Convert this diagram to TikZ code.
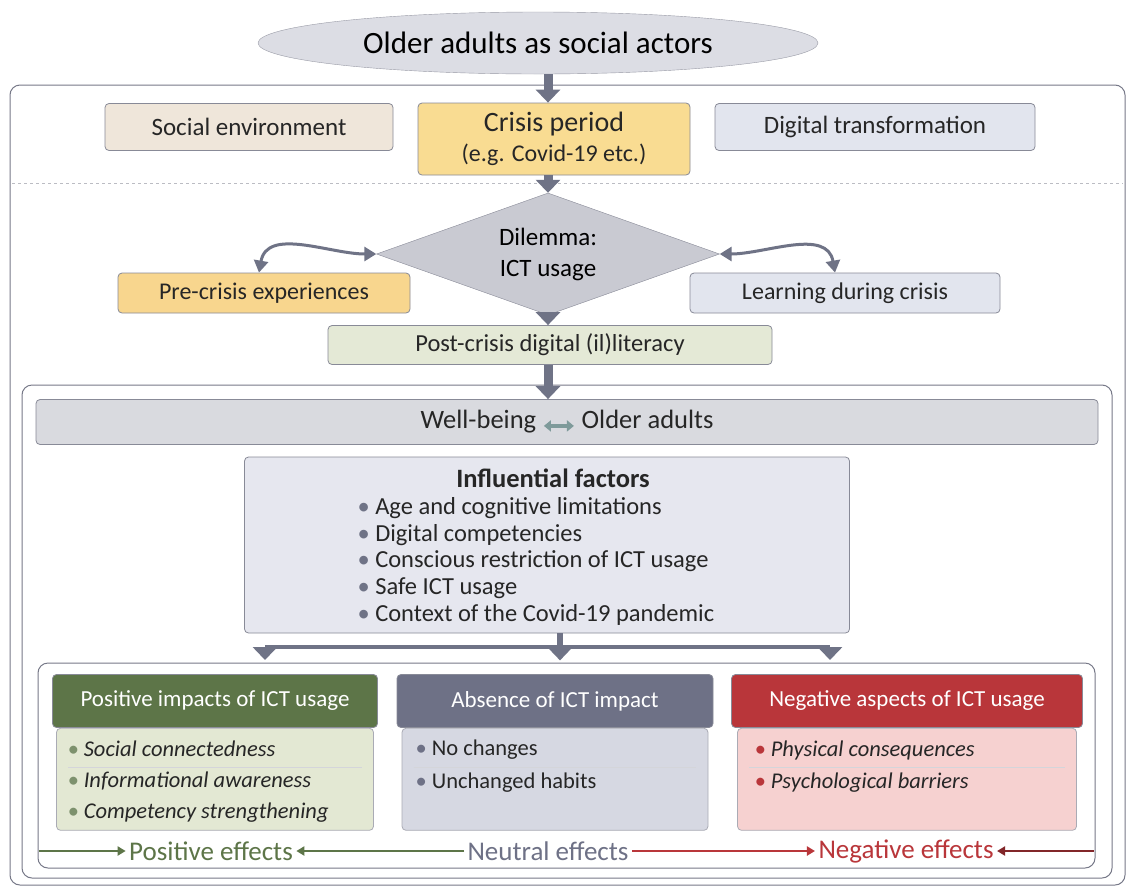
\documentclass[tikz,border=0pt]{standalone}
\usepackage{fontspec}
\setmainfont{Carlito}
\usetikzlibrary{positioning,shapes.geometric,arrows.meta,calc}
\definecolor{ellfill}{HTML}{DCDDE4}
\definecolor{flowgray}{HTML}{6F7386}
\definecolor{envfill}{HTML}{EFE6DA}
\definecolor{crisisfill}{HTML}{F9DC92}
\definecolor{digfill}{HTML}{E2E5EE}
\definecolor{dilfill}{HTML}{C9CAD2}
\definecolor{prefill}{HTML}{F8D68E}
\definecolor{postfill}{HTML}{E4E9D6}
\definecolor{wellfill}{HTML}{D9DADF}
\definecolor{inffill}{HTML}{E6E7EF}
\definecolor{posdark}{HTML}{5D7548}
\definecolor{poslight}{HTML}{E3E8D3}
\definecolor{neudark}{HTML}{6E7186}
\definecolor{neulight}{HTML}{D6D8E2}
\definecolor{negdark}{HTML}{B9363A}
\definecolor{neglight}{HTML}{F6D1D0}
\definecolor{wellarrow}{HTML}{7E9A9A}
\definecolor{frame}{HTML}{55586A}
\tikzset{
  box/.style={draw=frame!70, rounded corners=4pt, line width=0.8pt, text=black!85},
  flow/.style={draw=flowgray, line width=9pt, -{Triangle[width=24pt,length=13pt]}},
  sidearrow/.style={draw=flowgray, line width=3pt, {Triangle[width=14pt,length=12pt]}-{Triangle[width=14pt,length=12pt]}},
  head/.style={box, text=white, font=\fontsize{23}{26}\selectfont},
  body/.style={box, draw=frame!50},
  item/.style={anchor=west, font=\fontsize{22.5}{26}\selectfont\itshape, text=black!85},
  effect/.style={line width=2pt, -{Triangle[width=9pt,length=8pt]}},
}
\begin{document}
\begin{tikzpicture}[x=1pt,y=-1pt]
\useasboundingbox[fill=white] (0,0) rectangle (1135,892);
% frames
\draw[frame!80, line width=1pt, rounded corners=10pt] (10,85) rectangle (1125,885);
\draw[frame!40, dashed, line width=0.8pt] (12,183) -- (1123,183);
\draw[frame!80, line width=1pt, rounded corners=10pt] (22,385) rectangle (1112,878);
\draw[frame!80, line width=1pt, rounded corners=10pt] (38,663) rectangle (1095,868);
% top
\node[ellipse, draw=frame!60, fill=ellfill, minimum width=560, minimum height=62, font=\fontsize{31}{34}\selectfont] (actors) at (538,43) {Older adults as social actors};
\node[box, fill=envfill, minimum width=288, minimum height=47, font=\fontsize{25}{28}\selectfont] (env) at (249,127) {Social environment};
\node[box, fill=crisisfill, minimum width=272, minimum height=72, align=center, font=\fontsize{24}{30}\selectfont] (crisis) at (554,139) {\fontsize{28}{30}\selectfont Crisis period\\(e.g. Covid-19 etc.)};
\node[box, fill=digfill, minimum width=320, minimum height=47, font=\fontsize{25}{28}\selectfont] (digital) at (875,127) {Digital transformation};
% dilemma
\node[diamond, draw=frame!70, fill=dilfill, aspect=2.8, minimum width=343, minimum height=122, inner sep=0pt, align=center, font=\fontsize{25}{31}\selectfont] (dilemma) at (548,254) {Dilemma:\\ICT usage};
\node[box, fill=prefill, minimum width=292, minimum height=40, font=\fontsize{24}{28}\selectfont] (pre) at (264,293) {Pre-crisis experiences};
\node[box, fill=digfill, minimum width=310, minimum height=40, font=\fontsize{24}{28}\selectfont] (learn) at (845,293) {Learning during crisis};
\node[box, fill=postfill, minimum width=444, minimum height=39, font=\fontsize{24.5}{28}\selectfont] (post) at (550,345) {Post-crisis digital (il)literacy};
% well-being
\node[box, fill=wellfill, minimum width=1062, minimum height=45, font=\fontsize{26.5}{30}\selectfont] (well) at (567,422) {Well-being \tikz[baseline=-3pt]\draw[wellarrow, line width=3.5pt, {Triangle[width=11pt,length=7pt]}-{Triangle[width=11pt,length=7pt]}] (0,0) -- (30pt,0); Older adults};
\node[box, fill=inffill, minimum width=605, minimum height=176] (infl) at (547,545) {};
\node[font=\fontsize{26.5}{30}\selectfont\bfseries, text=black!85] (infltitle) at (553,478) {Influential factors};
\foreach \t [count=\i] in {Age and cognitive limitations, Digital competencies, Conscious restriction of ICT usage, Safe ICT usage, Context of the Covid-19 pandemic}
  \node[item, font=\fontsize{24.5}{28}\selectfont] (fac\i) at (354,482+26.5*\i) {\textcolor{flowgray}{\textbullet}\ \t};
% impact columns
\node[head, fill=posdark, minimum width=325, minimum height=53] (poshead) at (215,701) {Positive impacts of ICT usage};
\node[body, fill=poslight, minimum width=317, minimum height=102, anchor=north] (posbody) at (poshead.south) {};
\node[head, fill=neudark, minimum width=316, minimum height=53] (neuhead) at (555,701) {Absence of ICT impact};
\node[body, fill=neulight, minimum width=306, minimum height=102, anchor=north] (neubody) at (neuhead.south) {};
\node[head, fill=negdark, minimum width=351, minimum height=53] (neghead) at (907,701) {Negative aspects of ICT usage};
\node[body, fill=neglight, minimum width=339, minimum height=102, anchor=north] (negbody) at (neghead.south) {};
\foreach \c in {pos, neu, neg} {
  \draw[frame!25, line width=0.6pt] ($(\c body.north west)+(12,39)$) -- ($(\c body.north east)+(-12,39)$);
}
\foreach \t [count=\i] in {Social connectedness, Informational awareness, Competency strengthening}
  \node[item] (pos\i) at (64,717+32*\i) {\textcolor{posdark!80}{\textbullet}\ \t};
\foreach \t [count=\i] in {No changes, Unchanged habits}
  \node[item, font=\fontsize{22.5}{26}\selectfont] (neu\i) at (412,717+33*\i) {\textcolor{neudark}{\textbullet}\ \t};
\foreach \t [count=\i] in {Physical consequences, Psychological barriers}
  \node[item] (neg\i) at (751,717+33*\i) {\textcolor{negdark}{\textbullet}\ \t};
% flows
\draw[flow] (actors.south -| dilemma) -- (crisis.north -| dilemma);
\draw[flow] (crisis.south -| dilemma) -- (dilemma.north);
\draw[flow] (dilemma.south) -- (post.north -| dilemma);
\draw[flow] (post.south -| dilemma) -- (well.north -| dilemma);
\draw[sidearrow] (dilemma.west) to[out=180, in=80] ($(pre.north)+(-5,0)$);
\draw[sidearrow] (dilemma.east) to[out=0, in=100] ($(learn.north)+(-10,0)$);
\coordinate (splitL) at (265,647);
\coordinate (splitR) at (830,647);
\draw[flowgray, line width=4pt] (splitL) -- (splitR);
\draw[flow, line width=6pt] ($(infl.south)+(13,0)$) -- ++(0,27);
\draw[flow, line width=6pt] (splitL) -- ++(0,13);
\draw[flow, line width=6pt] (splitR) -- ++(0,13);
% effects
\node[font=\fontsize{27}{30}\selectfont, text=posdark] (poseff) at (211,851) {Positive effects};
\node[font=\fontsize{27}{30}\selectfont, text=neudark] (neueff) at (548,851) {Neutral effects};
\node[font=\fontsize{27}{30}\selectfont, text=negdark] (negeff) at (906,851) {Negative effects};
\coordinate (effL) at (39,851);
\coordinate (effR) at (1094,851);
\draw[effect, posdark] (effL) -- (poseff.west);
\draw[effect, posdark] (neueff.west) -- (poseff.east);
\draw[effect, negdark] (neueff.east) -- (negeff.west);
\draw[effect, negdark!70!black] (effR) -- (negeff.east);
\end{tikzpicture}
\end{document}
